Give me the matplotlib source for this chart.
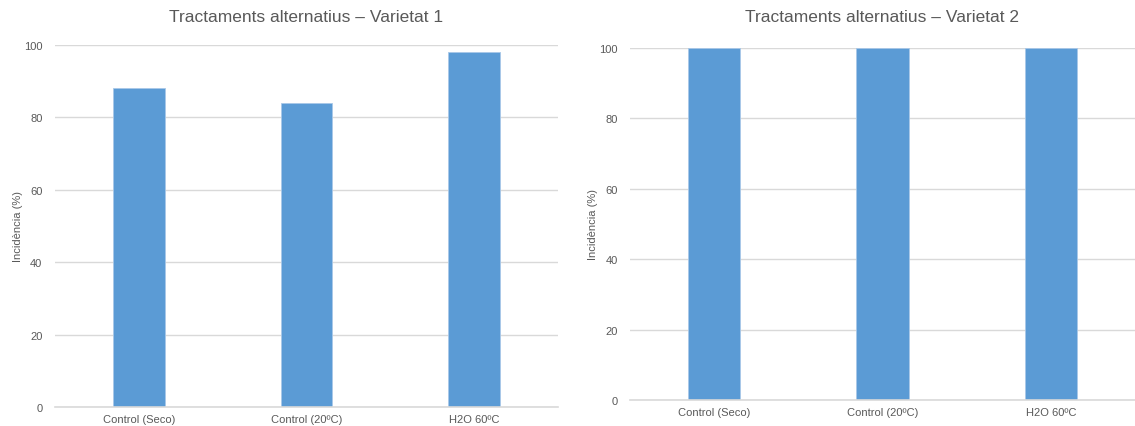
import matplotlib
matplotlib.use("Agg")
import matplotlib.pyplot as plt

categories = ["Control (Seco)", "Control (20ºC)", "H2O 60ºC"]
values_v1 = [88, 84, 98]
values_v2 = [100, 100, 100]
titles = ["Tractaments alternatius – Varietat 1", "Tractaments alternatius – Varietat 2"]
ylabel = "Incidència (%)"
yticks = [0, 20, 40, 60, 80, 100]

plt.rcParams['font.family'] = ['Liberation Sans', 'DejaVu Sans']
fig = plt.figure(figsize=(11.35, 4.27), dpi=100)

bar_color = "#5B9BD5"
grid_color = "#D9D9D9"
text_color = "#595959"

axes_pos = [
    [55/1135, (427-408)/427, 503/1135, 362/427],
    [630/1135, (427-401)/427, 505/1135, 352/427],
]
title_y = [18, 18]
ylabel_x = [18, 593]

for i, (vals, title) in enumerate(zip([values_v1, values_v2], titles)):
    ax = fig.add_axes(axes_pos[i])
    x = range(len(categories))
    ax.bar(x, vals, width=0.31, color=bar_color, edgecolor="#A9C8E8", linewidth=0.6, zorder=3)
    ax.set_xlim(-0.5, len(categories) - 0.5)
    ax.set_ylim(0, 100)
    ax.set_yticks(yticks)
    ax.set_xticks(list(x))
    ax.set_xticklabels(categories, fontsize=8, color=text_color)
    ax.tick_params(axis='y', labelsize=8, colors=text_color, length=0, pad=9)
    ax.tick_params(axis='x', length=0, pad=5, colors=text_color)
    ax.grid(axis='y', color=grid_color, linewidth=1, zorder=0)
    ax.axhline(0, color=grid_color, linewidth=1.2, zorder=4, clip_on=False)
    for s in ax.spines.values():
        s.set_visible(False)
    pos = ax.get_position()
    fig.text(pos.x0 + pos.width/2, 1 - title_y[i]/427, title, ha='center', va='center',
             fontsize=12.5, color=text_color)
    fig.text(ylabel_x[i]/1135, pos.y0 + pos.height/2, ylabel, rotation=90,
             ha='center', va='center', fontsize=8, color=text_color)

fig.savefig("out.png", dpi=100)
